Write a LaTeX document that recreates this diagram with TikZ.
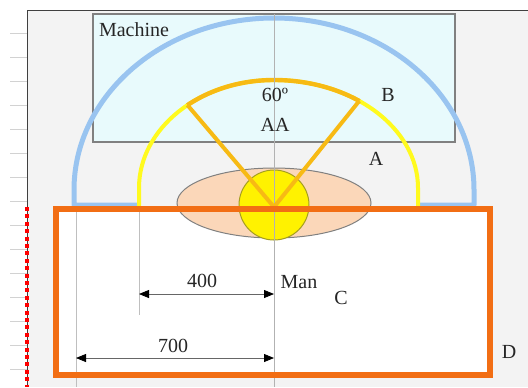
\documentclass[tikz,border=0pt]{standalone}
\usepackage{fontspec}
\setmainfont{Liberation Serif}
\usetikzlibrary{arrows.meta,intersections}

\definecolor{machinefill}{RGB}{232,250,252}
\definecolor{outerblue}{RGB}{153,196,240}
\definecolor{zoneyellow}{RGB}{255,250,30}
\definecolor{zoneorange}{RGB}{247,186,20}
\definecolor{frameorange}{RGB}{242,110,20}
\definecolor{bodyfill}{RGB}{251,215,185}
\definecolor{slidegray}{RGB}{243,243,243}

% courbe de la zone A (reprise pour la partie B)
\newcommand{\zonecurve}{(139,207) -- (139,188)
  arc[start angle=180, end angle=270, x radius=135, y radius=108]
  arc[start angle=270, end angle=360, x radius=144, y radius=108] -- (418,207)}

\begin{document}
\begin{tikzpicture}[x=0.5pt, y=-0.5pt,
    lbl/.style={inner sep=0pt, text=black!85},
    guide/.style={gray!50, line width=0.5pt},
    dimline/.style={{Triangle[length=5pt,width=4pt,color=black]}-{Triangle[length=5pt,width=4pt,color=black]}, line width=0.4pt, black!60}]
  \useasboundingbox (0,0) rectangle (528,387);

  % Fond de la diapositive
  \fill[slidegray] (27,10) rectangle (528,387);
  \foreach \y in {33,57,...,369} {
    \draw[gray!35, line width=0.4pt] (10,\y) -- (27,\y);
  }
  \draw[black!75, line width=0.5pt] (27,387) -- (27,10) -- (528,10);
  \draw[red, line width=2pt, dash pattern=on 2pt off 1.7pt] (27,207) -- (27,387);

  % Machine
  \draw[gray, fill=machinefill, line width=0.6pt] (93,14) rectangle (455,142);
  \node[lbl] (machine) at (134,30) {Machine};

  % Zone D (intérieur)
  \fill[white] (56,209) rectangle (490,375);

  % Lignes de rappel des cotes
  \draw[guide] (76,205) -- (76,387);
  \draw[guide] (139,207) -- (139,315);

  % Zone extérieure (bleue)
  \draw[outerblue, line width=2.5pt, line join=round]
    (139,205) -- (74,205) -- (74,190)
    arc[start angle=180, end angle=270, x radius=200, y radius=172]
    arc[start angle=270, end angle=360, x radius=200, y radius=172]
    -- (474,205) -- (418,205);

  % Zone A (jaune) et zone B (orange, 60º)
  \coordinate (man) at (274,207);
  \draw[zoneyellow, line width=2pt, name path=zone] \zonecurve;
  \path[name path=rayL] (man) -- (106,9);
  \path[name path=rayR] (man) -- (438,3);
  \path[name intersections={of=zone and rayL, by=jL}];
  \path[name intersections={of=zone and rayR, by=jR}];
  \begin{scope}
    \clip (man) -- (106,9) -- (438,3) -- cycle;
    \draw[zoneorange, line width=2.2pt] \zonecurve;
  \end{scope}

  % Opérateur
  \draw[gray, fill=bodyfill, line width=0.5pt] (274,203) ellipse [x radius=97, y radius=35];
  \draw[olive!80, fill=yellow, line width=0.5pt] (274,205) circle [radius=35];

  % Axe central
  \draw[guide, gray!60] (274,14) -- (274,387);

  % Rayons de la zone B
  \draw[zoneorange, line width=2pt, line join=round] (jL) -- (man) -- (jR);

  % Zone D (cadre)
  \draw[frameorange, line width=3pt] (56,209) rectangle (490,375);

  % Cotes
  \coordinate (a400) at (139,294);
  \coordinate (b400) at (274,294);
  \coordinate (a700) at (76,358);
  \coordinate (b700) at (274,358);
  \draw[dimline] (a400) -- (b400);
  \draw[dimline] (a700) -- (b700);
  \node[lbl] (l400) at (202,281) {400};
  \node[lbl] (l700) at (173,346) {700};

  % Repères
  \node[lbl] (angle) at (275,95) {60º};
  \node[lbl] (zoneAA) at (275,125) {AA};
  \node[lbl] (zoneB) at (388,95) {B};
  \node[lbl] (zoneA) at (376,159) {A};
  \node[lbl] (manlbl) at (299,282) {Man};
  \node[lbl] (zoneC) at (341,298) {C};
  \node[lbl] (zoneD) at (509,352) {D};
\end{tikzpicture}
\end{document}
